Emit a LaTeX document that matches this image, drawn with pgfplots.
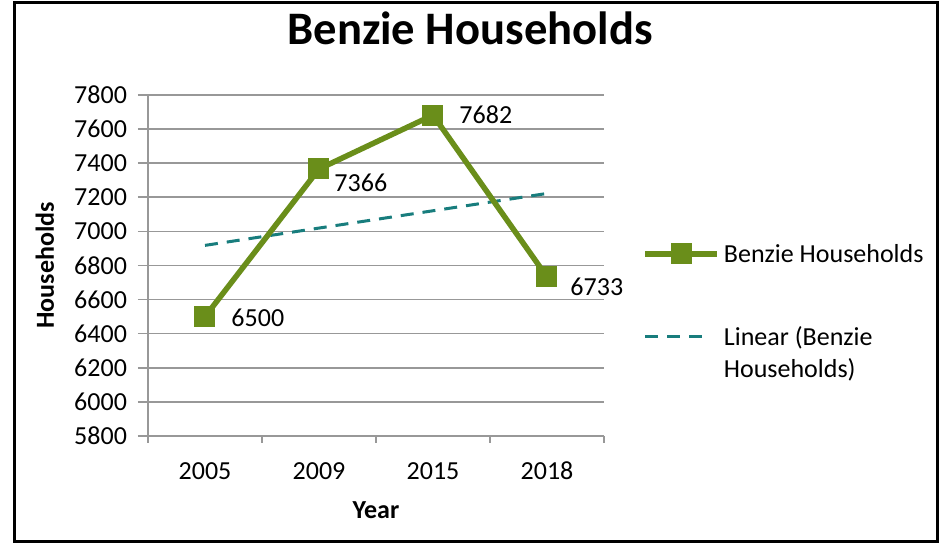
\documentclass[border=0pt]{standalone}
\usepackage{pgfplots}
\pgfplotsset{compat=1.18}
\usepackage{pgfplotstable}
\usepackage{fontspec}
\setmainfont{Carlito}
\definecolor{hgreen}{RGB}{106,142,26}
\definecolor{tteal}{RGB}{24,125,125}
\definecolor{gridgray}{RGB}{152,152,152}

\pgfplotstableread{
x y dx dy
0 6500 13 -0.5
1 7366 7.5 -7
2 7682 13 0
3 6733 11.5 -5
}\datatable

\pgfplotstableread{
x y
0 6918
3 7222.5
}\trendtable

\begin{document}
\fontsize{13pt}{16pt}\selectfont
\begin{tikzpicture}
\fill[white] (0,0) rectangle (472pt,272.5pt);
\draw[line width=1.5pt] (7pt,1.5pt) rectangle (468.5pt,271pt);
\node[font=\fontsize{23.3}{28}\selectfont\bfseries, anchor=base] at (235pt,250pt) {Benzie Households};
\begin{axis}[
  at={(74pt,54.5pt)}, anchor=south west,
  scale only axis, width=228pt, height=170.5pt,
  xmin=-0.5, xmax=3.5, ymin=5800, ymax=7800,
  ytick={5800,6000,...,7800},
  xtick={0,1,2,3}, xticklabels={2005,2009,2015,2018},
  minor xtick={-0.5,0.5,1.5,2.5,3.5},
  axis x line*=bottom, axis y line*=left,
  tick align=outside,
  major x tick style={draw=none},
  tick style={gridgray, line width=0.8pt},
  major tick length=5pt, minor tick length=3.5pt,
  axis line style={gridgray, line width=0.8pt},
  ymajorgrids, grid style={gridgray, line width=0.8pt},
  /pgf/number format/assume math mode=true,
  /pgf/number format/1000 sep={},
  ticklabel style={font=\fontsize{13}{16}\selectfont, text=black},
  yticklabel style={xshift=-1pt},
  xticklabel style={yshift=-4pt, text height=8.2pt, text depth=0pt},
  xlabel={\bfseries Year}, ylabel={\bfseries Households},
  xlabel style={at={(axis description cs:0.5,-0.217)}, anchor=center, font=\fontsize{13}{16}\selectfont},
  ylabel style={at={(axis description cs:-0.226,0.5)}, anchor=center, font=\fontsize{13}{16}\selectfont},
  legend image code/.code={\draw[mark repeat=2,mark phase=2] plot coordinates {(0pt,4.2pt) (18pt,4.2pt) (36pt,4.2pt)};},
  legend style={at={(axis description cs:1.0834,0.575)}, anchor=north west,
    draw=none, fill=none, inner sep=0pt, row sep=26pt,
    font=\fontsize{13}{16}\selectfont,
    cells={anchor=base west}},
  clip=false,
]
\addplot[tteal, line width=1.5pt, dash pattern=on 6.5pt off 4.5pt, forget plot] table[x=x,y=y] {\trendtable};
\addplot[hgreen, line width=2.75pt, mark=square*, mark size=5pt,
  mark options={solid, line width=0.5pt},
  nodes near coords, point meta=explicit,
  visualization depends on={\thisrow{dx} \as \ldx},
  visualization depends on={\thisrow{dy} \as \ldy},
  nodes near coords style={anchor=west, inner sep=0pt, xshift=\ldx pt, yshift=\ldy pt, text=black, font=\fontsize{13}{16}\selectfont}
] table[x=x, y=y, meta=y] {\datatable};
\addlegendentry{Benzie Households}
\addlegendimage{tteal, line width=1.5pt, dash pattern=on 6.5pt off 4.5pt,
  legend image code/.code={\draw plot coordinates {(0pt,4.2pt) (29pt,4.2pt)}; \path (36pt,4.2pt);}}
\addlegendentry{\vtop{\hbox{Linear (Benzie}\hbox{Households)}}}
\end{axis}
\end{tikzpicture}
\end{document}
